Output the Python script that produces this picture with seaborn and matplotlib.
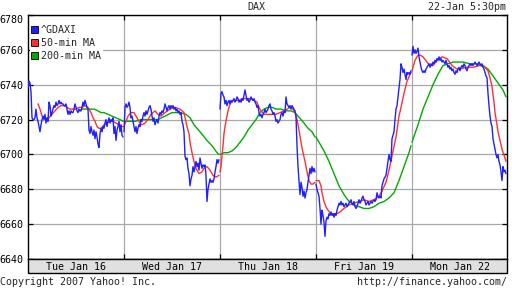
import matplotlib
matplotlib.use("Agg")
import matplotlib.pyplot as plt
import numpy as np
import pandas as pd
import seaborn as sns
from matplotlib.patches import Patch, Rectangle

# ---------------- data ----------------
days = ["Tue Jan 16", "Wed Jan 17", "Thu Jan 18", "Fri Jan 19", "Mon Jan 22"]
bars_per_day = 96          # ~5.3-minute bars per trading session
y_ticks = [6640, 6660, 6680, 6700, 6720, 6740, 6760, 6780]
title = "DAX"
stamp = "22-Jan 5:30pm"
series_names = ["^GDAXI", "50-min MA", "200-min MA"]

# ^GDAXI, one value per bar, for each day
gdaxi_day1 = [6738, 6742, 6741, 6736, 6721, 6720, 6720, 6721, 6726, 6721, 6719, 6716, 6713, 6717, 6720, 6722,
              6720, 6723, 6718, 6721, 6719, 6730, 6728, 6722, 6724, 6726, 6728, 6727, 6730, 6728, 6729, 6731,
              6729, 6730, 6729, 6729, 6728, 6728, 6729, 6726, 6723, 6725, 6723, 6725, 6724, 6724, 6726, 6729,
              6727, 6725, 6724, 6726, 6725, 6725, 6727, 6730, 6728, 6731, 6729, 6727, 6726, 6714, 6712, 6716,
              6713, 6711, 6714, 6709, 6713, 6710, 6706, 6704, 6712, 6715, 6713, 6716, 6715, 6718, 6720, 6716,
              6719, 6721, 6718, 6720, 6719, 6721, 6712, 6716, 6708, 6714, 6716, 6719, 6713, 6717, 6711, 6710]
gdaxi_day2 = [6713, 6727, 6729, 6727, 6728, 6730, 6727, 6721, 6722, 6719, 6716, 6713, 6716, 6712, 6715, 6717,
              6716, 6720, 6719, 6722, 6724, 6722, 6725, 6723, 6725, 6727, 6728, 6726, 6722, 6719, 6721, 6717,
              6719, 6720, 6718, 6722, 6724, 6723, 6725, 6724, 6726, 6729, 6727, 6725, 6727, 6728, 6726, 6728,
              6727, 6728, 6726, 6727, 6725, 6726, 6724, 6725, 6723, 6724, 6719, 6717, 6713, 6699, 6697, 6698,
              6692, 6689, 6682, 6686, 6688, 6693, 6690, 6693, 6696, 6693, 6695, 6691, 6698, 6695, 6692, 6694,
              6693, 6694, 6688, 6673, 6680, 6683, 6686, 6684, 6685, 6684, 6686, 6690, 6693, 6697, 6695, 6697]
gdaxi_day3 = [6726, 6735, 6736, 6734, 6733, 6729, 6731, 6728, 6730, 6731, 6729, 6731, 6730, 6731, 6732, 6730,
              6731, 6733, 6732, 6730, 6731, 6730, 6732, 6731, 6734, 6737, 6734, 6731, 6732, 6730, 6731, 6733,
              6732, 6731, 6732, 6730, 6729, 6727, 6728, 6724, 6722, 6723, 6721, 6723, 6724, 6726, 6724, 6725,
              6726, 6728, 6729, 6726, 6725, 6723, 6724, 6722, 6719, 6720, 6718, 6719, 6720, 6723, 6724, 6722,
              6725, 6724, 6733, 6729, 6728, 6727, 6728, 6726, 6728, 6727, 6726, 6725, 6722, 6705, 6693, 6685,
              6677, 6684, 6681, 6676, 6679, 6675, 6678, 6680, 6684, 6688, 6692, 6689, 6693, 6690, 6692, 6690]
gdaxi_day4 = [6683, 6680, 6678, 6676, 6669, 6660, 6668, 6665, 6661, 6653, 6662, 6664, 6663, 6666, 6665, 6667,
              6665, 6666, 6664, 6666, 6665, 6668, 6670, 6672, 6671, 6673, 6671, 6672, 6670, 6671, 6672, 6670,
              6671, 6672, 6673, 6674, 6672, 6671, 6673, 6670, 6669, 6670, 6672, 6674, 6672, 6673, 6675, 6676,
              6674, 6673, 6671, 6672, 6673, 6671, 6672, 6673, 6672, 6673, 6674, 6673, 6674, 6678, 6676, 6675,
              6676, 6675, 6682, 6684, 6686, 6687, 6688, 6692, 6696, 6700, 6697, 6696, 6709, 6711, 6713, 6720,
              6726, 6728, 6733, 6738, 6743, 6752, 6750, 6747, 6749, 6746, 6743, 6747, 6746, 6747, 6746, 6748]
gdaxi_day5 = [6757, 6762, 6758, 6760, 6758, 6759, 6761, 6756, 6753, 6750, 6748, 6747, 6748, 6747, 6749, 6750,
              6751, 6752, 6750, 6752, 6751, 6753, 6752, 6754, 6753, 6755, 6754, 6756, 6754, 6755, 6753, 6754,
              6753, 6752, 6754, 6752, 6750, 6751, 6749, 6750, 6748, 6749, 6747, 6746, 6748, 6747, 6749, 6750,
              6748, 6750, 6751, 6750, 6752, 6751, 6749, 6748, 6750, 6751, 6752, 6751, 6752, 6751, 6752, 6753,
              6752, 6751, 6752, 6753, 6752, 6751, 6752, 6750, 6749, 6747, 6745, 6744, 6735, 6728, 6722, 6718,
              6716, 6709, 6706, 6703, 6700, 6698, 6700, 6696, 6694, 6690, 6685, 6693, 6690, 6691, 6689]
gdaxi_days = [gdaxi_day1, gdaxi_day2, gdaxi_day3, gdaxi_day4, gdaxi_day5]

# 50-min moving average: bar number (from start of Tue) and value
ma50_bar = [10, 12, 14, 16, 18, 21, 24, 27, 30, 33, 36, 39, 42, 45, 48, 51, 54, 57, 60, 63, 65, 67, 69, 71, 73,
            76, 79, 82, 85, 88, 91, 94, 95,
            96, 98, 100, 103, 106, 109, 112, 114, 117, 120, 123, 127, 130, 133, 137, 142, 147, 152, 156, 159,
            161, 162, 164, 166, 168, 171, 174, 176, 179, 182, 185, 188, 191,
            192, 193, 195, 196, 197, 198, 200, 202, 205, 208, 211, 214, 218, 222, 226, 229, 231, 233, 236, 240,
            244, 248, 252, 256, 259, 262, 265, 267, 269, 271, 273, 275, 277, 279, 281, 283, 285, 287,
            288, 291, 293, 294, 296, 298, 300, 303, 306, 309, 312, 316, 321, 326, 331, 336, 341, 346, 351, 354,
            358, 361, 364, 368, 371, 373, 376, 379, 383,
            384, 387, 390, 392, 395, 399, 402, 405, 409, 414, 419, 424, 429, 432, 439, 445, 452, 457, 460, 462,
            464, 466, 467, 469, 470, 472, 474, 477, 478]
ma50_val = [6729, 6726, 6722, 6721, 6720, 6721, 6723, 6725, 6727, 6728, 6728, 6727, 6726, 6726, 6726, 6727,
            6727, 6728, 6727, 6724, 6721, 6719, 6716, 6715, 6715, 6717, 6718, 6719, 6719, 6718, 6717, 6716, 6716,
            6716, 6719, 6722, 6724, 6724, 6721, 6718, 6717, 6718, 6720, 6723, 6725, 6723, 6722, 6724, 6726,
            6727, 6726, 6724, 6716, 6712, 6707, 6701, 6696, 6692, 6689, 6690, 6692, 6693, 6691, 6688, 6687, 6688,
            6690, 6693, 6705, 6712, 6716, 6719, 6725, 6729, 6731, 6731, 6731, 6732, 6732, 6732, 6731, 6730,
            6727, 6725, 6723, 6723, 6723, 6723, 6724, 6725, 6726, 6727, 6726, 6724, 6720, 6714, 6707, 6701,
            6696, 6690, 6685, 6683, 6683, 6684,
            6685, 6685, 6682, 6678, 6673, 6670, 6668, 6666, 6666, 6666, 6667, 6669, 6671, 6672, 6673, 6674,
            6673, 6674, 6676, 6679, 6684, 6691, 6699, 6710, 6722, 6727, 6735, 6742, 6747,
            6748, 6754, 6757, 6757, 6756, 6753, 6751, 6751, 6754, 6756, 6755, 6751, 6749, 6749, 6750, 6750,
            6751, 6750, 6748, 6744, 6739, 6730, 6724, 6717, 6713, 6708, 6703, 6698, 6696]

# 200-min moving average
ma200_bar = [51, 54, 58, 62, 66, 70, 73, 76, 80, 84, 88, 92, 95,
             96, 100, 107, 114, 122, 130, 137, 144, 152, 158, 162, 166, 172, 179, 184, 189, 191,
             192, 196, 200, 204, 208, 212, 216, 220, 224, 228, 232, 236, 240, 244, 248, 253, 258, 263, 267,
             270, 273, 276, 280, 284, 287,
             288, 291, 296, 301, 306, 311, 316, 321, 326, 331, 336, 341, 346, 351, 356, 361, 366, 371, 376,
             381, 383,
             384, 390, 395, 400, 405, 410, 415, 420, 425, 435, 442, 449, 455, 460, 465, 470, 475, 478]
ma200_val = [6725, 6726, 6726, 6726, 6726, 6725, 6724, 6724, 6723, 6722, 6721, 6720, 6719,
             6719, 6719, 6719, 6720, 6720, 6720, 6722, 6724, 6724, 6723, 6721, 6717, 6713, 6708, 6705, 6701, 6700,
             6700, 6701, 6701, 6702, 6704, 6707, 6710, 6714, 6717, 6720, 6724, 6726, 6727, 6727, 6726, 6726,
             6725, 6725, 6724, 6722, 6720, 6718, 6715, 6713, 6710,
             6710, 6707, 6702, 6696, 6689, 6682, 6677, 6673, 6671, 6670, 6669, 6669, 6670, 6672, 6673, 6675,
             6678, 6685, 6693, 6701, 6705,
             6707, 6717, 6726, 6733, 6740, 6746, 6751, 6752, 6753, 6753, 6752, 6752, 6751, 6749, 6745, 6741,
             6737, 6733]

# ---------------- build table ----------------
rows = []
for d, vals in enumerate(gdaxi_days):
    for i, v in enumerate(vals):
        rows.append((d * bars_per_day + i, v, series_names[0], d))
for b, v in zip(ma50_bar, ma50_val):
    rows.append((b, v, series_names[1], b // bars_per_day))
for b, v in zip(ma200_bar, ma200_val):
    rows.append((b, v, series_names[2], b // bars_per_day))
df = pd.DataFrame(rows, columns=["bar", "price", "series", "day"])

colors = {"^GDAXI": "#2020ff", "50-min MA": "#ff3030", "200-min MA": "#00aa00"}

# ---------------- figure ----------------
sns.set_style("white")
plt.rcParams["font.family"] = ["DejaVu Sans Mono", "DejaVu Sans"]
FS = 7.2

W, H = 512, 288
fig = plt.figure(figsize=(W / 100, H / 100), dpi=100)
fig.patch.set_facecolor("white")
L, R, T, B = 28, 507, 15, 259
ax = fig.add_axes([L / W, (H - B) / H, (R - L) / W, (B - T) / H])

sns.lineplot(data=df, x="bar", y="price", hue="series", units="day", estimator=None,
             hue_order=["200-min MA", "50-min MA", "^GDAXI"], palette=colors,
             linewidth=1.0, legend=False, ax=ax, zorder=3)

n_days = len(days)
ax.set_xlim(0, n_days * bars_per_day - 1)
ax.set_ylim(y_ticks[0], y_ticks[-1])
ax.set_yticks(y_ticks)
ax.set_yticklabels([str(t) for t in y_ticks], fontsize=FS, color="black")
ax.get_yticklabels()[-1].set_va("top")
ax.set_xticks([bars_per_day * k for k in range(1, n_days)])
ax.set_xticklabels([])
ax.set_xlabel("")
ax.set_ylabel("")
ax.grid(True, color="#a8a8a8", linewidth=0.9, zorder=0)
ax.set_axisbelow(True)
ax.tick_params(axis="y", direction="in", length=3.5, width=0.9, pad=3.5,
               left=True, right=True, color="black")
ax.tick_params(axis="x", direction="in", length=3.5, width=0.9,
               bottom=True, top=True, color="black")
for s in ax.spines.values():
    s.set_color("black")
    s.set_linewidth(1.0)
    s.set_visible(True)

# legend
handles = [Patch(facecolor=colors[n], edgecolor="black", linewidth=0.6) for n in series_names]
leg = ax.legend(handles, series_names, loc="upper left", bbox_to_anchor=(0.0, 1.0 - 7 / (B - T)),
                prop={"family": "DejaVu Sans Mono", "size": FS},
                handlelength=0.65, handleheight=0.65, handletextpad=0.35,
                labelspacing=0.3, borderpad=0.15, borderaxespad=0.15,
                frameon=True, fancybox=False, framealpha=1.0)
leg.get_frame().set_facecolor("white")
leg.get_frame().set_edgecolor("none")
leg.set_zorder(5)

# date band below the plot
band = Rectangle((L / W, (H - 273) / H), (R - L) / W, 14 / H, transform=fig.transFigure,
                 facecolor="#e0e0e0", edgecolor="black", linewidth=1.0, zorder=1)
fig.patches.append(band)
for k, name in enumerate(days):
    xc = ax.transData.transform(((k + 0.5) * bars_per_day, y_ticks[0]))[0]
    fig.text(xc / fig.dpi / (W / 100), (H - 266.5) / H, name, ha="center", va="center",
             fontsize=FS, color="black")

fig.text(256 / W, (H - 7) / H, title, ha="center", va="center", fontsize=FS)
fig.text(506 / W, (H - 7) / H, stamp, ha="right", va="center", fontsize=FS)
fig.text(0.5 / W, (H - 282) / H, "Copyright 2007 Yahoo! Inc.", ha="left", va="center", fontsize=FS)
fig.text(507 / W, (H - 282) / H, "http://finance.yahoo.com/", ha="right", va="center", fontsize=FS)

fig.savefig("out.png", dpi=100, facecolor="white")
